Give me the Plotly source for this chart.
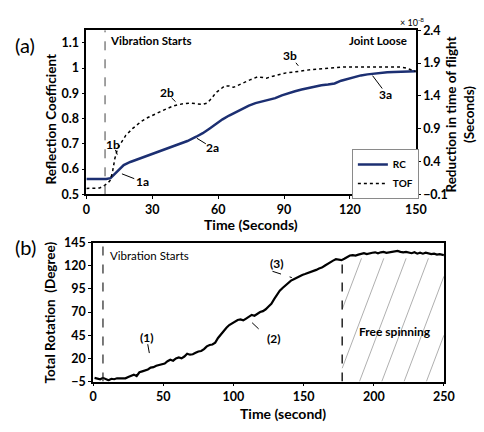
import plotly.graph_objects as go

# ---------------- Panel (a): reflection coefficient and time-of-flight ----------------
rc_time = [0, 3, 6, 9, 11, 13, 15, 17, 20, 24, 27, 30, 33, 36, 40, 43, 46, 50, 53, 56,
           59, 62, 65, 68, 71, 74, 77, 80, 83, 86, 89, 92, 95, 98, 101, 104, 107, 110,
           113, 116, 119, 122, 125, 128, 131, 134, 137, 140, 143, 146, 150]
rc_value = [0.561, 0.561, 0.561, 0.561, 0.564, 0.58, 0.60, 0.616, 0.628, 0.641, 0.65,
            0.66, 0.67, 0.68, 0.692, 0.701, 0.711, 0.728, 0.742, 0.76, 0.779, 0.797,
            0.812, 0.826, 0.84, 0.851, 0.861, 0.868, 0.874, 0.881, 0.892, 0.901, 0.908,
            0.915, 0.921, 0.927, 0.932, 0.935, 0.939, 0.95, 0.958, 0.966, 0.971, 0.975,
            0.978, 0.980, 0.983, 0.984, 0.985, 0.986, 0.987]

tof_time = [0, 2, 4, 6, 8, 9, 10, 11, 12, 13, 14, 15, 16, 18, 21, 25, 28, 31, 34, 37,
            40, 42, 44, 47, 50, 53, 55, 57, 59, 61, 63, 65, 67, 69, 72, 75, 78, 80, 82,
            85, 88, 91, 94, 97, 100, 103, 106, 110, 113, 117, 121, 125, 129, 133, 137,
            141, 143, 146, 148, 150]
tof_value = [-0.01, -0.01, -0.01, -0.005, 0.03, 0.05, 0.08, 0.12, 0.26, 0.45, 0.57, 0.64,
             0.70, 0.80, 0.90, 1.01, 1.07, 1.12, 1.17, 1.21, 1.25, 1.27, 1.28, 1.29, 1.28,
             1.27, 1.29, 1.36, 1.45, 1.50, 1.55, 1.55, 1.53, 1.56, 1.61, 1.65, 1.69, 1.68,
             1.67, 1.70, 1.73, 1.75, 1.76, 1.78, 1.79, 1.80, 1.81, 1.82, 1.83, 1.84, 1.84,
             1.84, 1.83, 1.83, 1.83, 1.83, 1.84, 1.82, 1.79, 1.77]

vib_start_a = 8.5

# ---------------- Panel (b): total rotation ----------------
rot_time = [1, 3, 5, 7, 9, 11, 13, 15, 17, 19, 21, 23, 25, 27, 29, 31, 33, 35, 37, 39,
            41, 43, 45, 47, 49, 51, 53, 55, 57, 59, 61, 63, 65, 67, 69, 71, 73, 75, 77,
            79, 81, 83, 85, 87, 89, 91, 93, 95, 97, 99, 101, 103, 105, 107, 109, 111,
            113, 115, 117, 119, 121, 123, 125, 127, 129, 131, 133, 135, 137, 139, 141,
            143, 145, 147, 149, 151, 153, 155, 157, 159, 161, 163, 165, 167, 169, 171,
            173, 175, 177, 179, 181, 183, 185, 187, 189, 191, 193, 195, 197, 199, 201,
            203, 205, 207, 209, 211, 213, 215, 217, 219, 221, 223, 225, 227, 229, 231,
            233, 235, 237, 239, 241, 243, 245, 247, 250]
rot_value = [-1, -2, -2.5, -1, -2.5, -3.5, -2, -2.5, -1.5, -1.5, -1, -1.5, 0, 1.5, 2.5,
             1, 5, 6, 7, 8, 10, 10.5, 12, 13, 14, 14.5, 17, 18.5, 17.5, 20, 21, 20, 22,
             25, 24, 24.5, 26, 27.5, 28, 30, 33, 34.5, 35, 37, 42, 46, 50, 53, 56, 58,
             60, 61.5, 62, 61, 63, 65, 67, 66, 68, 70, 71, 73, 76, 79, 84, 89, 93, 96,
             99, 101, 104, 105.5, 107, 109, 110, 111, 112, 113.5, 114, 115.5, 117, 118,
             120, 122, 124, 125.5, 127, 126.5, 126, 127.5, 129, 131, 131.5, 131, 132,
             132.5, 133.5, 132.5, 133.5, 134, 134.5, 133.5, 134.5, 135, 134, 134.5,
             135.5, 135.5, 136, 135, 134.5, 135, 134, 133.5, 134.5, 133, 134, 133, 134,
             133, 132.5, 133, 132, 132.5, 131.5]

vib_start_b = 7
free_spin_start = 177.5
free_spin_top = 125

FONT = "Lato"
NAVY = "#1c2f72"

fig = go.Figure()

fig.add_trace(go.Scatter(x=rc_time, y=rc_value, mode="lines", name="RC",
                         line=dict(color=NAVY, width=2.5), xaxis="x", yaxis="y"))
fig.add_trace(go.Scatter(x=tof_time, y=tof_value, mode="lines", name="TOF",
                         line=dict(color="black", width=1.5, dash="dot"),
                         xaxis="x", yaxis="y2"))
fig.add_trace(go.Scatter(x=rot_time, y=rot_value, mode="lines", showlegend=False,
                         line=dict(color="black", width=2.2), xaxis="x2", yaxis="y3"))

W, H = 484, 432


def px_x(p):
    return p / W


def px_y(p):
    return 1 - p / H


tickfont = dict(family=FONT, size=12.5, color="black", weight="bold")
axis_common = dict(showgrid=False, zeroline=False, showline=True, linecolor="black",
                   linewidth=1.6, ticks="outside", ticklen=3, tickcolor="black",
                   tickwidth=1, tickfont=tickfont)

fig.update_layout(
    width=W, height=H,
    margin=dict(l=0, r=0, t=0, b=0),
    paper_bgcolor="white", plot_bgcolor="white",
    font=dict(family=FONT, color="black"),
    xaxis=dict(domain=[px_x(85), px_x(425)], anchor="y", range=[0, 150],
               tickvals=[0, 30, 60, 90, 120, 150], mirror=True, **axis_common),
    yaxis=dict(domain=[px_y(193), px_y(23)], anchor="x", range=[0.5, 1.15],
               tickvals=[0.5, 0.6, 0.7, 0.8, 0.9, 1.0, 1.1], mirror=True, **axis_common),
    yaxis2=dict(overlaying="y", side="right", anchor="x", range=[-0.1, 2.4],
                tickvals=[-0.1, 0.4, 0.9, 1.4, 1.9, 2.4], **axis_common),
    xaxis2=dict(domain=[px_x(92), px_x(454)], anchor="y3", range=[0, 250],
                tickvals=[0, 50, 100, 150, 200, 250], mirror=True, **axis_common),
    yaxis3=dict(domain=[px_y(387), px_y(243)], anchor="x2", range=[-5, 145],
                tickvals=[-5, 20, 45, 70, 95, 120, 145], mirror=True, **axis_common),
    legend=dict(x=px_x(359), y=px_y(146), xanchor="left", yanchor="top",
                bgcolor="white", bordercolor="#8a8a8a", borderwidth=1,
                font=dict(family=FONT, size=10, weight="bold"),
                itemwidth=30, tracegroupgap=0),
)

# Hatched "free spinning" region: thin parallel lines clipped to the region
hatch_spacing = 15.9
hatch_slope = 4.0
hatch_top = 128
shapes = []
xb = 142.1
while xb < 250:
    x_start, y_start = xb, -5
    if x_start < free_spin_start:
        x_start = free_spin_start
        y_start = -5 + (free_spin_start - xb) * hatch_slope
    x_end = xb + (hatch_top + 5) / hatch_slope
    y_end = hatch_top
    if x_end > 250:
        x_end = 250
        y_end = -5 + (250 - xb) * hatch_slope
    if y_start < hatch_top:
        shapes.append(dict(type="line", xref="x2", yref="y3", x0=x_start, y0=y_start,
                           x1=x_end, y1=y_end, line=dict(color="#9a9a9a", width=0.8)))
    xb += hatch_spacing

# Event markers
shapes.append(dict(type="line", xref="x", yref="y", x0=vib_start_a, x1=vib_start_a,
                   y0=0.5, y1=1.15, line=dict(color="#444", width=1, dash="dash")))
shapes.append(dict(type="line", xref="x2", yref="y3", x0=vib_start_b, x1=vib_start_b,
                   y0=-5, y1=145, line=dict(color="#222", width=1.2, dash="dash")))
shapes.append(dict(type="line", xref="x2", yref="y3", x0=free_spin_start,
                   x1=free_spin_start, y0=-5, y1=free_spin_top,
                   line=dict(color="#222", width=1.5, dash="dash")))

# Leader lines for point labels (panel a: solid, panel b: dashed)
leaders_a = [((13.2, 0.676), (14.1, 0.657)), ((16.2, 0.581), (21.8, 0.562)),
             ((38.8, 0.882), (40.6, 0.867)), ((50.3, 0.722), (54.4, 0.700)),
             ((95.4, 1.021), (96.5, 1.009)), ((130.3, 0.970), (134.7, 0.919))]
for (x0, y0), (x1, y1) in leaders_a:
    shapes.append(dict(type="line", xref="x", yref="y", x0=x0, y0=y0, x1=x1, y1=y1,
                       line=dict(color="black", width=1)))
leaders_b = [((38.9, 35.3), (41.2, 16.1)), ((113.3, 58.5), (121.5, 46.8)),
             ((127.8, 114), (141.6, 107.2))]
for (x0, y0), (x1, y1) in leaders_b:
    shapes.append(dict(type="line", xref="x2", yref="y3", x0=x0, y0=y0, x1=x1, y1=y1,
                       line=dict(color="black", width=1, dash="dash")))

fig.update_layout(shapes=shapes)

ann = []


def text(x, y, s, size=12, xref="x", yref="y", xanchor="center", bold=True, angle=0,
         yanchor="middle"):
    ann.append(dict(x=x, y=y, xref=xref, yref=yref, text=s, showarrow=False,
                    xanchor=xanchor, yanchor=yanchor, textangle=angle,
                    font=dict(family=FONT, size=size, color="black",
                              weight="bold" if bold else "normal")))


# Panel (a) labels
text(9.7, 1.108, "Vibration Starts", size=11.5, xanchor="left")
text(132.8, 1.108, "Joint Loose", size=11.5)
text(11.9, 0.697, "1b", size=12)
text(25.7, 0.552, "1a", size=12)
text(36.6, 0.905, "2b", size=12)
text(57.4, 0.687, "2a", size=12)
text(92.5, 1.05, "3b", size=12)
text(136.2, 0.897, "3a", size=12)

# Panel (b) labels
text(10.4, 131.5, "Vibration Starts", size=11.5, xref="x2", yref="y3", xanchor="left",
     bold=False)
text(38.2, 42.2, "(1)", size=12, xref="x2", yref="y3")
text(128.9, 41.1, "(2)", size=12, xref="x2", yref="y3")
text(131.2, 122.1, "(3)", size=12, xref="x2", yref="y3")
text(215.1, 48.5, "Free spinning", size=12, xref="x2", yref="y3")

# Panel tags, axis titles and exponent note
text(px_x(22), px_y(38), "(a)", size=20, xref="paper", yref="paper", bold=False)
text(px_x(22), px_y(248), "(b)", size=20, xref="paper", yref="paper", bold=False)
text(px_x(48), px_y(116), "Reflection Coefficient", size=13.5, xref="paper",
     yref="paper", angle=-90)
text(px_x(471), px_y(110), "Reduction in time of flight<br>(Seconds)", size=13.5,
     xref="paper", yref="paper", angle=-90)
text(px_x(255), px_y(224), "Time (Seconds)", size=14, xref="paper", yref="paper")
text(px_x(421), px_y(15), "× 10<sup>-8</sup>", size=9, xref="paper", yref="paper",
     bold=False)
text(px_x(47), px_y(316), "Total Rotation  (Degree)", size=13.5, xref="paper",
     yref="paper", angle=-90)
text(px_x(288), px_y(420), "Time (second)", size=14, xref="paper", yref="paper")

fig.update_layout(annotations=ann)

fig.write_html("out.html")
